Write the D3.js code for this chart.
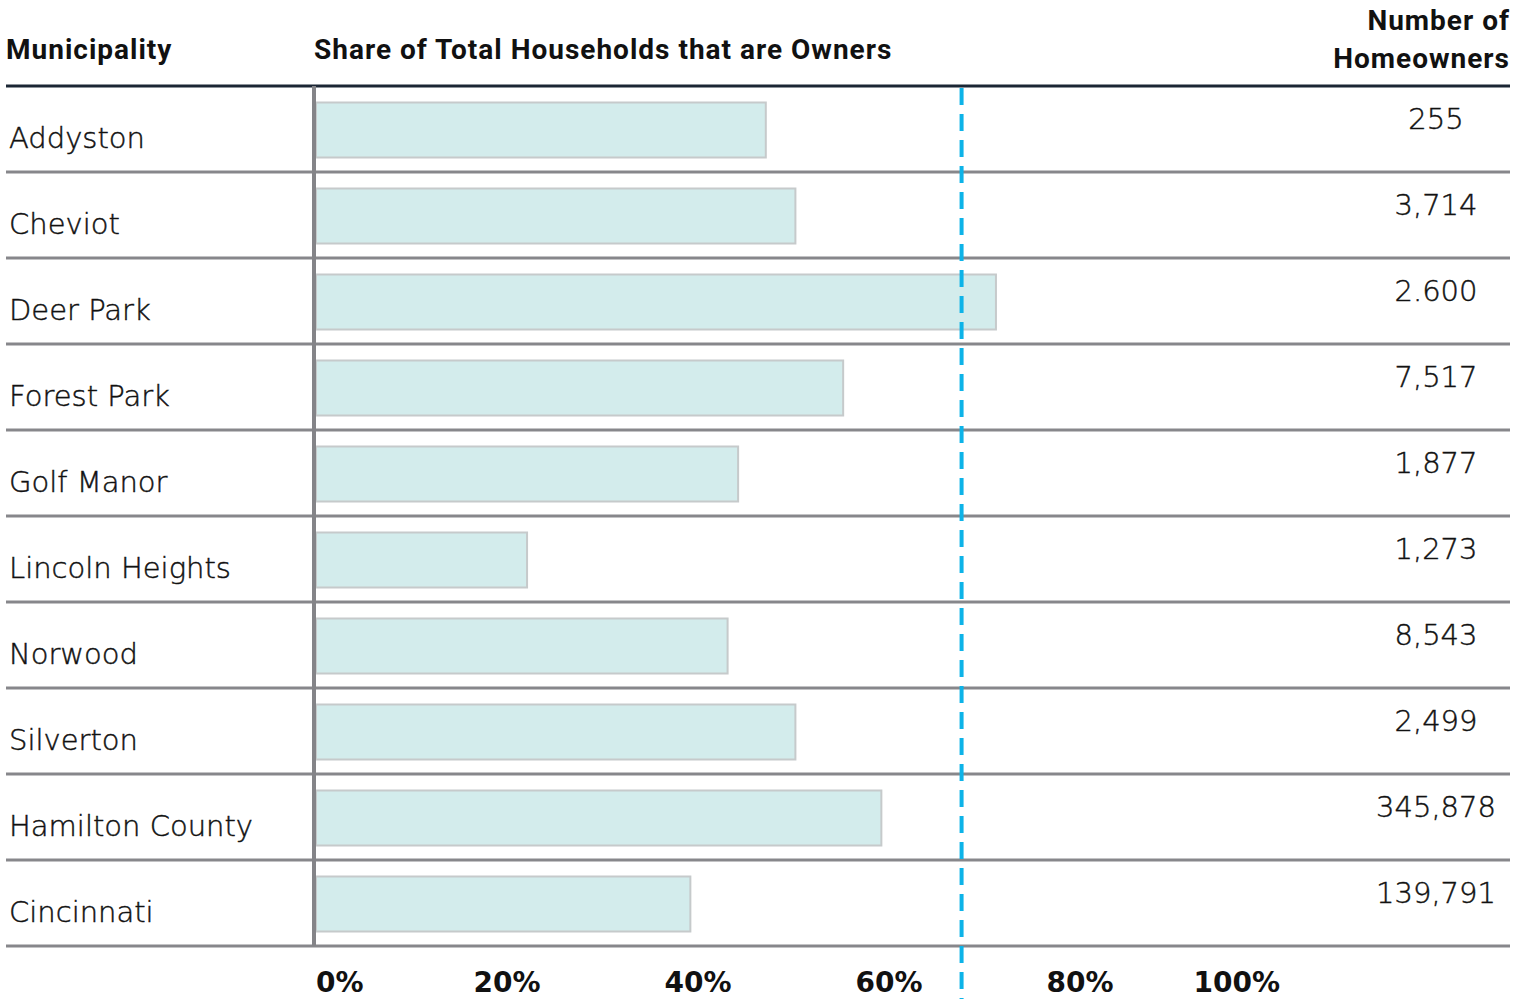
<!DOCTYPE html>
<html>
<head>
<meta charset="utf-8">
<script src="https://cdn.jsdelivr.net/npm/d3@7"></script>
<style>
  html, body { margin: 0; padding: 0; background: #fff; }
  svg { display: block; }
</style>
</head>
<body>
<svg id="chart" width="1519" height="999"></svg>
<script>
// Municipalities, share of households that own their home, and owner counts
const municipalities = ["Addyston", "Cheviot", "Deer Park", "Forest Park", "Golf Manor",
  "Lincoln Heights", "Norwood", "Silverton", "Hamilton County", "Cincinnati"];
const ownerShare = [47.1, 50.2, 71.2, 55.2, 44.2, 22.1, 43.1, 50.2, 59.2, 39.2];
const ownerCountLabels = ["255", "3,714", "2.600", "7,517", "1,877", "1,273", "8,543", "2,499", "345,878", "139,791"];
const axisTicks = [0, 20, 40, 60, 80, 100];
const referenceShare = [67.6];

(function draw() {
  const svg = d3.select("#chart");
  const headFont = "Roboto, 'Open Sans', sans-serif";
  const bodyFont = "'DejaVu Sans', 'Open Sans', sans-serif";

  const tableLeft = 6, tableRight = 1510;
  const tableTop = 86, tableBottom = 946;
  const barLeft = 316;

  const x = d3.scaleLinear().domain([0, 100]).range([barLeft, barLeft + 955]);
  const y = d3.scaleBand().domain(municipalities).range([tableTop, tableBottom]);
  const barH = 55;
  const barOff = 16.5;

  // column headers
  const headStyle = sel => sel.attr("font-family", headFont).attr("font-weight", 700)
    .attr("font-size", 28).attr("letter-spacing", 1).attr("fill", "#111");
  svg.append("text").attr("x", 6).attr("y", 59).call(headStyle).text("Municipality");
  svg.append("text").attr("x", 314).attr("y", 59).call(headStyle)
    .text("Share of Total Households that are Owners");
  const numHead = svg.append("text").attr("text-anchor", "end").call(headStyle);
  numHead.append("tspan").attr("x", tableRight).attr("y", 30).text("Number of");
  numHead.append("tspan").attr("x", tableRight).attr("y", 68).text("Homeowners");

  // bars
  svg.append("g").selectAll("rect").data(municipalities).join("rect")
    .attr("x", x(0))
    .attr("y", d => y(d) + barOff)
    .attr("width", (d, i) => x(ownerShare[i]) - x(0))
    .attr("height", barH)
    .attr("fill", "#d3ecec")
    .attr("stroke", "#c6cacb")
    .attr("stroke-width", 2);

  // row separators
  svg.append("g").selectAll("line").data(municipalities).join("line")
    .attr("x1", tableLeft).attr("x2", tableRight)
    .attr("y1", d => y(d) + y.bandwidth()).attr("y2", d => y(d) + y.bandwidth())
    .attr("stroke", "#87878b").attr("stroke-width", 3);

  // header rule
  svg.append("line").attr("x1", tableLeft).attr("x2", tableRight)
    .attr("y1", tableTop).attr("y2", tableTop)
    .attr("stroke", "#1b2634").attr("stroke-width", 3);

  // baseline of bars
  svg.append("line").attr("x1", 314).attr("x2", 314)
    .attr("y1", tableTop).attr("y2", tableBottom)
    .attr("stroke", "#848488").attr("stroke-width", 4);

  // reference line
  svg.append("g").selectAll("line").data(referenceShare).join("line")
    .attr("x1", d => x(d)).attr("x2", d => x(d))
    .attr("y1", tableTop + 2).attr("y2", 999)
    .attr("stroke", "#0db3e8").attr("stroke-width", 4)
    .attr("stroke-dasharray", "17 9");

  // light body text, slightly thickened
  const bodyStyle = sel => sel.attr("font-family", bodyFont).attr("font-weight", 300)
    .attr("font-size", 29).attr("fill", "#111")
    .attr("stroke", "#111").attr("stroke-width", 0.45);

  // municipality names
  svg.append("g").selectAll("text").data(municipalities).join("text")
    .attr("x", 9).attr("y", d => y(d) + 62)
    .call(bodyStyle).text(d => d);

  // owner counts
  svg.append("g").selectAll("text").data(ownerCountLabels).join("text")
    .attr("x", 1436).attr("y", (d, i) => y(municipalities[i]) + 43)
    .attr("text-anchor", "middle")
    .call(bodyStyle).text(d => d);

  // percentage axis labels
  svg.append("g").selectAll("text").data(axisTicks).join("text")
    .attr("x", d => x(d))
    .attr("dx", (d, i) => i === axisTicks.length - 1 ? 9 : 0)
    .attr("y", 992)
    .attr("text-anchor", (d, i) => i === 0 ? "start" : (i === axisTicks.length - 1 ? "end" : "middle"))
    .attr("font-family", bodyFont).attr("font-weight", 700).attr("font-size", 28)
    .attr("fill", "#111").text(d => d + "%");
})();
</script>
</body>
</html>
